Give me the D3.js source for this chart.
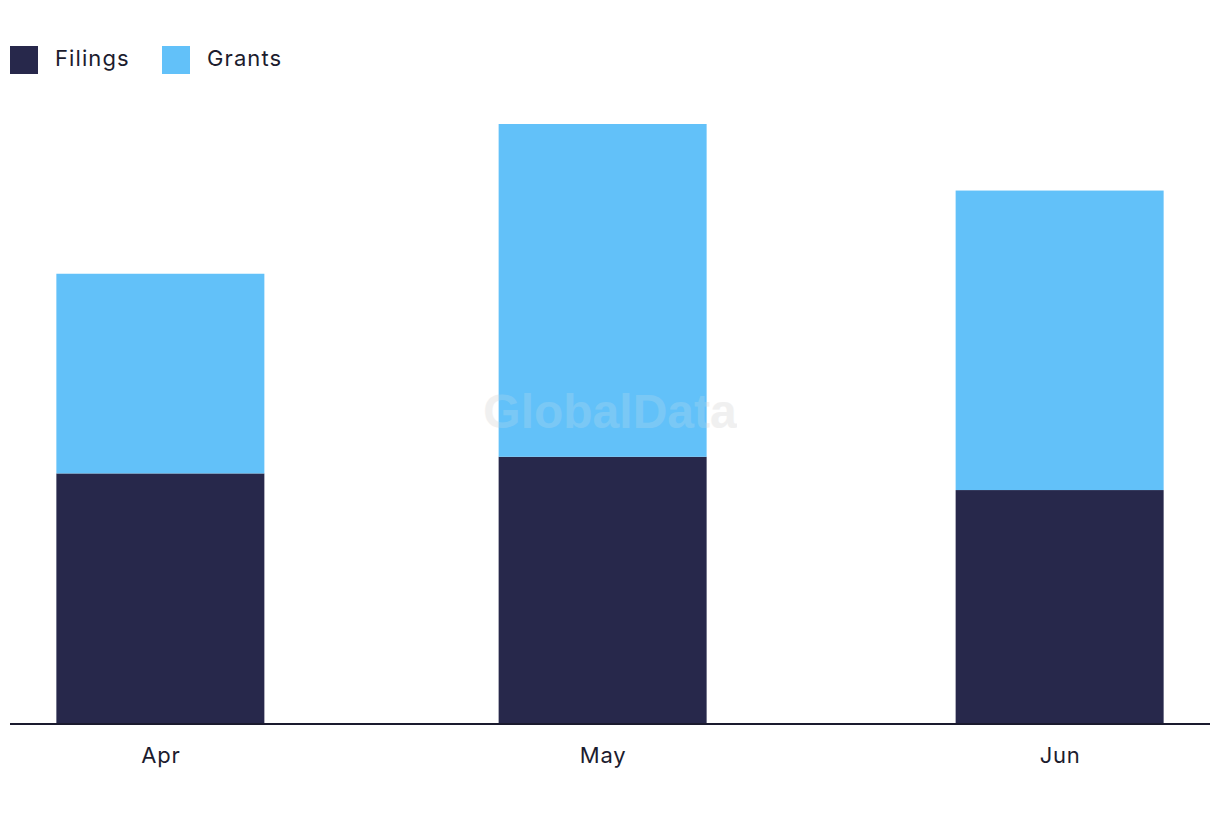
<!DOCTYPE html>
<html><head><meta charset="utf-8">
<script src="https://cdn.jsdelivr.net/npm/d3@7"></script>
<style>body{margin:0;background:#fff}svg{display:block}text{font-family:Inter,"Noto Sans",sans-serif}</style>
</head><body><svg id="c" width="1220" height="822"></svg>
<script>
const categories = ["Apr", "May", "Jun"];
const months = ["2023-04-01", "2023-05-01", "2023-06-01"];
const filings = [15, 16, 14];
const grants = [12, 20, 18];
const seriesNames = ["Filings", "Grants"];
const colors = ["#27284b", "#62c1f9"];

const svg = d3.select("#c");
const parse = d3.utcParse("%Y-%m-%d");
const dates = months.map(parse);
const pad = 10.2 * 864e5;
const x = d3.scaleUtc().domain([+dates[0] - pad, +dates[2] + pad]).range([10, 1210]);
const y = d3.scaleLinear().domain([0, 36]).range([723, 124]);
const barW = 208;

const data = categories.map((c, i) => ({cat: c, date: dates[i], Filings: filings[i], Grants: grants[i]}));
const stack = d3.stack().keys(seriesNames)(data);

svg.append("text").attr("x", 610).attr("y", 428).attr("text-anchor", "middle")
  .attr("font-size", 48).attr("font-weight", 700).attr("fill", "#e8e8e8").attr("opacity", 0.5)
  .style("font-family", "Arial, 'Liberation Sans', sans-serif").text("GlobalData");

svg.append("g").selectAll("g").data(stack).join("g").attr("fill", (d, i) => colors[i])
  .selectAll("rect").data(d => d).join("rect")
  .attr("x", d => x(d.data.date) - barW / 2).attr("width", barW)
  .attr("y", d => y(d[1])).attr("height", d => y(d[0]) - y(d[1]));

svg.append("text").attr("x", 610).attr("y", 428).attr("text-anchor", "middle")
  .attr("font-size", 48).attr("font-weight", 700).attr("fill", "#e8e8e8").attr("opacity", 0.18)
  .style("font-family", "Arial, 'Liberation Sans', sans-serif").text("GlobalData");

const ax = svg.append("g").attr("transform", "translate(0,724)")
  .call(d3.axisBottom(x).tickValues(dates).tickSize(0).tickPadding(23).tickFormat((d, i) => categories[i]));
ax.select(".domain").attr("stroke", "#1a1a2e").attr("stroke-width", 2).attr("d", "M10,0H1210");
ax.selectAll("text").attr("font-size", 22).attr("fill", "#1c1c2e").attr("letter-spacing", 0.8)
  .style("font-family", "Inter, sans-serif");

const lg = svg.append("g");
const lx = [10, 162];
seriesNames.forEach((s, i) => {
  lg.append("rect").attr("x", lx[i]).attr("y", 46).attr("width", 28).attr("height", 28).attr("fill", colors[i]);
  lg.append("text").attr("x", lx[i] + 45).attr("y", 66).attr("font-size", 22).attr("letter-spacing", 1.1)
    .attr("fill", "#1c1c2e").text(s);
});
</script></body></html>
